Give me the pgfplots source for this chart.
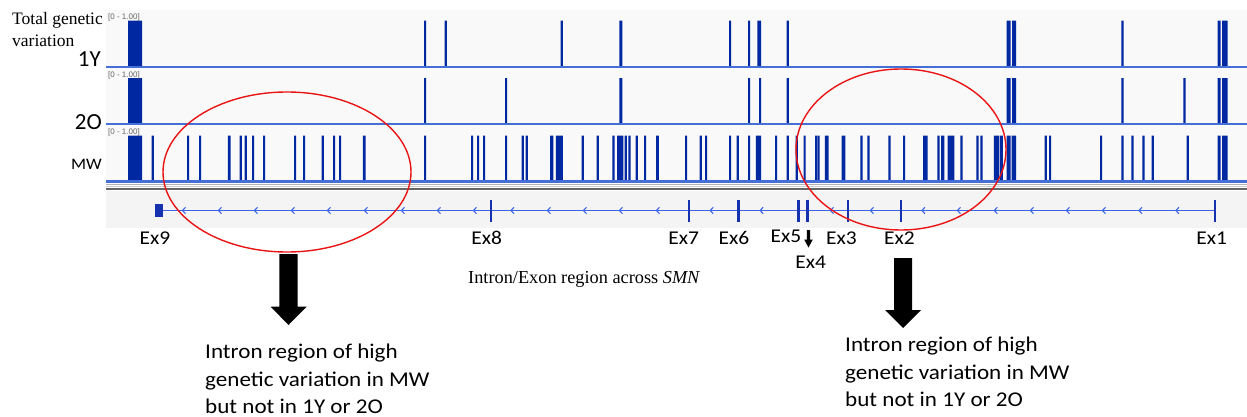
\documentclass[border=0pt]{standalone}
\usepackage{pgfplots}
\pgfplotsset{compat=1.18}
\usepackage{fontspec}
\setmainfont{Liberation Serif}
\newfontfamily\calfont{Carlito}
\newfontfamily\calwide[FakeStretch=1.1]{Carlito}
\newfontfamily\arsfont{Liberation Sans}
\definecolor{barblue}{RGB}{0,40,160}
\definecolor{baseblue}{RGB}{70,110,215}
\definecolor{geneline}{RGB}{60,100,230}
\definecolor{exonblue}{RGB}{20,50,175}
\definecolor{panelbg}{RGB}{249,249,249}
\definecolor{genebg}{RGB}{244,244,245}
\definecolor{ellred}{RGB}{235,20,20}
\pgfdeclareplotmark{chev}{%
  \pgfpathmoveto{\pgfqpoint{1.5pt}{3.2pt}}%
  \pgfpathlineto{\pgfqpoint{-1.5pt}{0pt}}%
  \pgfpathlineto{\pgfqpoint{1.5pt}{-3.2pt}}%
  \pgfusepathqstroke}
\pgfplotsset{track/.style={width=1141pt, height=46pt, scale only axis,
  xmin=106, xmax=1247, ymin=0, ymax=1, hide axis, clip=false, anchor=south west}}
\begin{document}
\begin{tikzpicture}[x=1pt,y=1pt]
\path[use as bounding box, fill=white] (0,0) rectangle (1247,-417);
\fill[panelbg] (106,-10) rectangle (1247,-183);
\fill[genebg] (106,-191) rectangle (1247,-228);
\draw[gray!60, line width=1.5pt] (106,-184.5) -- (1247,-184.5);
\draw[gray!40, line width=1pt] (106,-186.5) -- (1247,-186.5);
\draw[black!60, line width=2pt] (106,-189) -- (1247,-189);

% 1Y track
\begin{axis}[track, at={(106pt,-66.7pt)}]
\addplot[const plot, fill=barblue, draw=none] coordinates {
(106,0)(128,1)(142,0)(424,1)(426.2,0)(444.7,1)(446.9,0)(560.7,1)(562.9,0)(619.3,1)(622.3,0)
(729,1)(731.2,0)(748,1)(750.2,0)(757.3,1)(761.2,0)(786.7,1)(788.9,0)(1006.7,1)(1010.5,0)
(1012,1)(1016,0)(1121.3,1)(1123.5,0)(1217.7,1)(1220.5,0)(1222,1)(1227.7,0)(1247,0)} \closedcycle;
\draw[baseblue, line width=2pt] (axis cs:106,0) -- (axis cs:1247,0);
\end{axis}

% 2O track
\begin{axis}[track, at={(106pt,-124pt)}]
\addplot[const plot, fill=barblue, draw=none] coordinates {
(106,0)(128,1)(142,0)(424,1)(426.2,0)(505,1)(507.2,0)(619.3,1)(622.3,0)(748,1)(750.2,0)
(759,1)(761.2,0)(786.7,1)(788.9,0)(1006.7,1)(1010.5,0)(1012,1)(1016,0)(1121.3,1)(1123.5,0)
(1183.3,1)(1185.5,0)(1217.7,1)(1220.5,0)(1222,1)(1227.7,0)(1247,0)} \closedcycle;
\draw[baseblue, line width=2pt] (axis cs:106,0) -- (axis cs:1247,0);
\end{axis}

% MW track
\begin{axis}[track, at={(106pt,-181.5pt)}]
\addplot[const plot, fill=barblue, draw=none] coordinates {
(106,0)(128,1)(142,0)
(151.7,1)(153.9,0)(187,1)(189.2,0)(199,1)(201.2,0)(227.8,1)(230.6,0)(239.7,1)(241.9,0)
(244.7,1)(246.9,0)(252,1)(254.2,0)(263,1)(265.2,0)(294,1)(296.2,0)(303,1)(305.2,0)
(321.7,1)(323.9,0)(333,1)(335.2,0)(339,1)(341.2,0)(362.8,1)(365.6,0)
(424,1)(426.2,0)(471,1)(473.2,0)(477,1)(479.2,0)(483,1)(485.2,0)(505,1)(507.2,0)
(521.7,1)(523.9,0)(525.7,1)(527.9,0)(550,1)(553.4,0)(555.8,1)(562.8,0)(581.7,1)(583.9,0)
(596.7,1)(598.9,0)(612.3,1)(614.5,0)(617,1)(623.4,0)(624.7,1)(626.9,0)(628.3,1)(630.5,0)
(635.7,1)(637.9,0)(644,1)(646.2,0)(656,1)(658.8,0)(685,1)(687.2,0)(699.7,1)(701.9,0)
(705,1)(707.2,0)(729,1)(731.2,0)(736.7,1)(738.9,0)(748,1)(750.2,0)(755.8,1)(761,0)
(775,1)(777.2,0)(786.7,1)(788.9,0)(795.7,1)(797.9,0)(803.5,1)(805.7,0)(815,1)(817.1,0)
(817.5,1)(819.5,0)(824.8,1)(828.6,0)(841.5,1)(845.3,0)(860.3,1)(862.5,0)(867.3,1)(869.5,0)
(888.3,1)(890.5,0)(903,1)(905.2,0)(923.2,1)(927.6,0)(937.3,1)(939.5,0)(941,1)(944.4,0)
(947.6,1)(954.4,0)(960.3,1)(962.5,0)(976.3,1)(978.5,0)(980.3,1)(982.5,0)(993.8,1)(998.8,0)
(999.6,1)(1002.8,0)(1006.7,1)(1010.5,0)(1011.5,1)(1016,0)(1044.7,1)(1046.9,0)(1049,1)(1051.2,0)
(1100,1)(1102.2,0)(1121.3,1)(1123.5,0)(1131.3,1)(1133.5,0)(1142.3,1)(1144.5,0)(1151.7,1)(1153.9,0)
(1186.7,1)(1188.9,0)(1217.7,1)(1220.5,0)(1222,1)(1227.7,0)(1247,0)} \closedcycle;
\draw[baseblue, line width=2.2pt] (axis cs:106,0) -- (axis cs:1247,0);
\end{axis}

% gene track
\begin{axis}[width=1141pt, height=22pt, scale only axis, xmin=106, xmax=1247, ymin=-1, ymax=1,
  hide axis, clip=false, anchor=south west, at={(106pt,-221.5pt)}]
\addplot[geneline, line width=1.4pt] coordinates {(163,0)(1214.7,0)};
\addplot[only marks, mark=chev, geneline, mark options={line width=1.1pt}] coordinates {
(184,0)(220,0)(256,0)(293,0)(329,0)(366,0)(403,0)(439,0)(475,0)(512.5,0)(549,0)(585,0)(621,0)
(658,0)(711.7,0)(761.6,0)(832,0)(872,0)(923.4,0)(959,0)(995.8,0)(1032,0)(1068,0)(1104,0)
(1140.5,0)(1177.4,0)};
\addplot[only marks, mark=|, mark size=11pt, exonblue, mark options={line width=2.5pt}] coordinates {
(491,0)(689.2,0)(738.7,0)(798.5,0)(807.3,0)(848,0)};
\addplot[only marks, mark=|, mark size=11pt, exonblue, mark options={line width=2pt}] coordinates {
(901.3,0)(1214.7,0)};
\addplot[fill=exonblue, draw=none] coordinates {(155,-0.55)(163,-0.55)(163,0.55)(155,0.55)} -- cycle;
\end{axis}

% scale labels
\foreach \yy in {14,71.5,129}{
  \node[anchor=north west, inner sep=0pt, text=gray!80!black, font=\arsfont\fontsize{8}{9}\selectfont] at (108,-\yy) {[0 - 1.00]};
}

% left labels
\node[anchor=base west, inner sep=0pt, font=\fontsize{17.5}{20}\selectfont] at (12,-25) {Total genetic};
\node[anchor=base west, inner sep=0pt, font=\fontsize{17.5}{20}\selectfont] at (12,-47) {variation};
\node[anchor=base east, inner sep=0pt, font=\calfont\fontsize{23}{26}\selectfont] at (101,-67) {1Y};
\node[anchor=base east, inner sep=0pt, font=\calfont\fontsize{23}{26}\selectfont] at (102,-130) {2O};
\node[anchor=base east, inner sep=0pt, font=\calwide\fontsize{16}{19}\selectfont] at (102,-169) {MW};

% exon labels
\foreach \xx/\lab in {155/Ex9,486.7/Ex8,683.8/Ex7,734/Ex6,841.5/Ex3,899.4/Ex2,1211.7/Ex1}{
  \node[anchor=base, inner sep=0pt, font=\calwide\fontsize{19.5}{24}\selectfont] at (\xx,-244) {\lab};
}
\node[anchor=base, inner sep=0pt, font=\calwide\fontsize{19.5}{24}\selectfont] at (786,-242) {Ex5};
\node[anchor=base, inner sep=0pt, font=\calwide\fontsize{19.5}{24}\selectfont] at (810.8,-268) {Ex4};
\fill[black] (806.9,-230) -- (810.1,-230) -- (810.1,-239.5) -- (812.8,-239.5) -- (808.5,-247.5) -- (804.2,-239.5) -- (806.9,-239.5) -- cycle;

\node[anchor=base west, inner sep=0pt, font=\fontsize{18.3}{21}\selectfont] at (468,-283) {Intron/Exon region across \textit{SMN}};

% ellipses
\draw[ellred, line width=1.4pt] (287,-172) ellipse [x radius=124, y radius=80];
\draw[ellred, line width=1.4pt] (901,-149.5) ellipse [x radius=105, y radius=80.5];

% big arrows
\fill[black] (279.3,-254) -- (297.7,-254) -- (297.7,-306.7) -- (306.7,-306.7) -- (288.5,-325) -- (270.7,-306.7) -- (279.3,-306.7) -- cycle;
\fill[black] (894,-258) -- (912,-258) -- (912,-310) -- (921,-310) -- (903,-328) -- (885,-310) -- (894,-310) -- cycle;

% annotations
\foreach \yy/\lab in {358/Intron region of high,386.5/genetic variation in MW,413/but not in 1Y or 2O}{
  \node[anchor=base west, inner sep=0pt, font=\calwide\fontsize{21}{26}\selectfont] at (205,-\yy) {\lab};
}
\foreach \yy/\lab in {351/Intron region of high,379.5/genetic variation in MW,406/but not in 1Y or 2O}{
  \node[anchor=base west, inner sep=0pt, font=\calwide\fontsize{21}{26}\selectfont] at (845,-\yy) {\lab};
}
\end{tikzpicture}
\end{document}
